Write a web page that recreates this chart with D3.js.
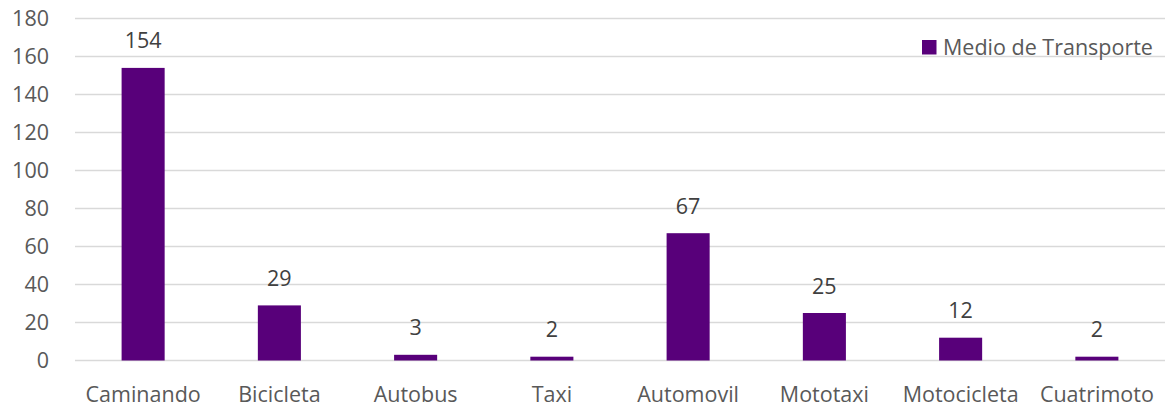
<!DOCTYPE html>
<html>
<head>
<meta charset="utf-8">
<script src="https://cdn.jsdelivr.net/npm/d3@7"></script>
<style>
  html, body { margin: 0; padding: 0; background: #fff; }
  svg { display: block; }
  text { font-family: "Open Sans", "Noto Sans", sans-serif; fill: #595959; }
</style>
</head>
<body>
<svg id="chart" width="1168" height="411"></svg>
<script>
// Medio de transporte utilizado
const categories = ["Caminando", "Bicicleta", "Autobus", "Taxi", "Automovil", "Mototaxi", "Motocicleta", "Cuatrimoto"];
const values = [154, 29, 3, 2, 67, 25, 12, 2];
const yTicks = [0, 20, 40, 60, 80, 100, 120, 140, 160, 180];
const seriesName = "Medio de Transporte";

const W = 1168, H = 411;
const margin = { top: 18.5, right: 3, bottom: 50.5, left: 75 };
const barColor = "#58007a";
const fontSize = 21.5;

const svg = d3.select("#chart");
const g = svg.append("g").attr("transform", `translate(${margin.left},${margin.top})`);
const iw = W - margin.left - margin.right;
const ih = H - margin.top - margin.bottom;

const x = d3.scaleBand().domain(categories).range([0, iw]).padding(0);
const y = d3.scaleLinear().domain([0, 180]).range([ih, 0]);
const barW = x.bandwidth() * 0.316;

// horizontal gridlines
g.append("g")
  .selectAll("line")
  .data(yTicks)
  .join("line")
  .attr("x1", 0).attr("x2", iw)
  .attr("y1", d => y(d)).attr("y2", d => y(d))
  .attr("stroke", "#d9d9d9")
  .attr("stroke-width", 1.5);

// y axis labels
const yAxis = d3.axisLeft(y).tickValues(yTicks).tickSize(0).tickPadding(26);
g.append("g").call(yAxis)
  .call(s => s.select(".domain").remove())
  .selectAll("text")
  .attr("font-size", fontSize)
  .attr("fill", "#595959")
  .style("font-family", '"Open Sans", sans-serif');

// x axis labels
const xAxis = d3.axisBottom(x).tickSize(0).tickPadding(26);
g.append("g").attr("transform", `translate(0,${ih})`).call(xAxis)
  .call(s => s.select(".domain").remove())
  .selectAll("text")
  .attr("font-size", fontSize)
  .attr("fill", "#595959")
  .style("font-family", '"Open Sans", sans-serif');

// bars
g.append("g")
  .selectAll("rect")
  .data(values)
  .join("rect")
  .attr("x", (d, i) => x(categories[i]) + x.bandwidth() / 2 - barW / 2)
  .attr("width", barW)
  .attr("y", d => y(d))
  .attr("height", d => y(0) - y(d))
  .attr("fill", barColor);

// value labels
g.append("g")
  .selectAll("text")
  .data(values)
  .join("text")
  .attr("x", (d, i) => x(categories[i]) + x.bandwidth() / 2)
  .attr("y", d => y(d) - 19.5)
  .attr("text-anchor", "middle")
  .attr("font-size", fontSize)
  .style("fill", "#404040")
  .text(d => d);

// legend
const legend = svg.append("g").attr("transform", "translate(922,40)");
legend.append("rect").attr("width", 14.5).attr("height", 14.5).attr("fill", barColor);
legend.append("text")
  .attr("x", 21).attr("y", 14.5)
  .attr("font-size", fontSize)
  .text(seriesName);
</script>
</body>
</html>
